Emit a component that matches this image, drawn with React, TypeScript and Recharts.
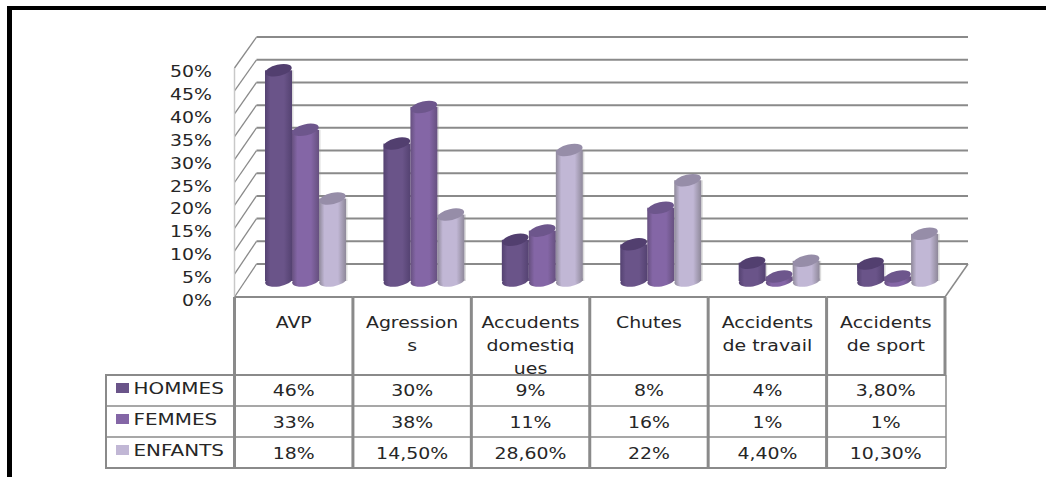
import React from "react";
import { BarChart, Bar, XAxis, YAxis, CartesianGrid, Legend } from "recharts";

const categories = ["AVP", "Agressions", "Accudents domestiques", "Chutes", "Accidents de travail", "Accidents de sport"];
const categoryLines = [["AVP"], ["Agression", "s"], ["Accudents", "domestiq", "ues"], ["Chutes"], ["Accidents", "de travail"], ["Accidents", "de sport"]];
const hommes = [46, 30, 9, 8, 4, 3.8];
const femmes = [33, 38, 11, 16, 1, 1];
const enfants = [18, 14.5, 28.6, 22, 4.4, 10.3];
const yTicks = [0, 5, 10, 15, 20, 25, 30, 35, 40, 45, 50];

const seriesNames = ["HOMMES", "FEMMES", "ENFANTS"];
const seriesValues = [hommes, femmes, enfants];
const seriesColors = ["#6a5489", "#8466a6", "#c1b7d5"];
const seriesTops = ["#523f6f", "#6d568c", "#968da8"];
const seriesEdges = ["#544271", "#66507f", "#8e8899"];

const data = categories.map((name, i) => ({
  name,
  HOMMES: hommes[i],
  FEMMES: femmes[i],
  ENFANTS: enfants[i],
}));

const W = 1046;
const H = 477;
const PLOT_LEFT = 234.5;
const PLOT_RIGHT = 945;
const PLOT_TOP = 68;
const PLOT_BOTTOM = 297;
const BAND = (PLOT_RIGHT - PLOT_LEFT) / categories.length;
const DEPTH_X = 22;
const BACK_FLOOR = 264;
const BACK_SCALE = 0.991;
const BAR_DX = 11.5;
const BAR_DY = -16;
const ROW_TOP = 375;
const ROW_H = 31;
const LINE = "#8a8a8a";
const FONT = "'DejaVu Sans', sans-serif";
const TEXT = "#262626";

const fmt = (v: number) =>
  Number.isInteger(v) ? `${v}%` : `${v.toFixed(2).replace(".", ",")}%`;

const WideText = ({ x, y, anchor = "middle", stretch = 1.26, children }: any) => (
  <text
    transform={`translate(${x} ${y}) scale(${stretch} 1)`}
    textAnchor={anchor}
    fontFamily={FONT}
    fontSize={15}
    fill={TEXT}
  >
    {children}
  </text>
);

const makeCylinder = (s: number) => (props: any) => {
  const { x, y, width, height } = props;
  const cx = x + width / 2 + BAR_DX;
  const cy = y + BAR_DY;
  const by = y + height + BAR_DY;
  const rx = width / 2;
  const left = x + BAR_DX;
  return (
    <g>
      <rect x={left + width} y={cy} width={1.5} height={by - cy} fill="#8a8a8a" opacity={0.3} />
      <ellipse cx={cx} cy={by} rx={rx} ry={5.5} fill={`url(#cyl${s})`} transform={`rotate(-9 ${cx} ${by})`} />
      <rect x={left} y={cy} width={width} height={by - cy} fill={`url(#cyl${s})`} />
      <ellipse cx={cx} cy={cy} rx={rx} ry={5.6} fill={seriesTops[s]} transform={`rotate(-13 ${cx} ${cy})`} />
    </g>
  );
};

const gridLine = (p: any) => {
  const { x1, x2, y1, index } = p;
  const isFloor = Math.abs(y1 - PLOT_BOTTOM) < 0.5;
  const backY = BACK_FLOOR - (PLOT_BOTTOM - y1) * BACK_SCALE;
  return (
    <g key={`g${index}`}>
      <line x1={x1} y1={y1} x2={x1 + DEPTH_X} y2={backY} stroke={LINE} strokeWidth={1.3} />
      <line x1={x1 + DEPTH_X} y1={backY} x2={x2 + DEPTH_X + 1} y2={backY} stroke={LINE} strokeWidth={2} />
      {isFloor && (
        <line x1={x2} y1={y1} x2={x2 + DEPTH_X + 1} y2={backY} stroke={LINE} strokeWidth={1.5} />
      )}
    </g>
  );
};

const YTick = (p: any) => (
  <WideText x={212} y={p.y + 9} anchor="end">
    {`${p.payload.value}%`}
  </WideText>
);

const XTick = (p: any) => {
  const i = p.index as number;
  const cx = p.x as number;
  const xl = cx - BAND / 2;
  const xr = cx + BAND / 2;
  const bottom = ROW_TOP + ROW_H * 3;
  return (
    <g>
      <line x1={xl} y1={PLOT_BOTTOM} x2={xl} y2={bottom} stroke={LINE} strokeWidth={3} />
      {i === categories.length - 1 && (
        <>
          <line x1={xr} y1={PLOT_BOTTOM} x2={xr} y2={ROW_TOP} stroke={LINE} strokeWidth={3} />
          <line x1={xr + 1} y1={ROW_TOP} x2={xr + 1} y2={bottom} stroke={LINE} strokeWidth={1.5} />
        </>
      )}
      <line x1={xl} y1={PLOT_BOTTOM} x2={xr} y2={PLOT_BOTTOM} stroke={LINE} strokeWidth={2} />
      {[0, 1, 2, 3].map((r) => (
        <line key={r} x1={xl} y1={ROW_TOP + ROW_H * r} x2={xr + 1} y2={ROW_TOP + ROW_H * r} stroke={LINE} strokeWidth={r === 0 || r === 3 ? 2 : 1.5} />
      ))}
      {categoryLines[i].map((t, k) => (
        <WideText key={t} x={cx} y={328 + k * 23}>
          {t}
        </WideText>
      ))}
      {seriesValues.map((vals, r) => (
        <WideText key={r} x={cx} y={ROW_TOP + 21 + r * 31.5}>
          {fmt(vals[i])}
        </WideText>
      ))}
    </g>
  );
};

const RowHeaders = ({ payload }: any) => (
  <svg width={130} height={95} style={{ display: "block", overflow: "visible" }}>
    <rect x={1} y={1} width={128} height={93} fill="none" stroke={LINE} strokeWidth={2} />
    {(payload || []).map((e: any, r: number) => (
      <g key={e.value}>
        <rect x={11} y={9 + r * 31} width={13} height={10} fill={e.color} />
        <WideText x={28.5} y={20 + r * 31} anchor="start" stretch={1.33}>
          {e.value}
        </WideText>
      </g>
    ))}
    <line x1={0} y1={32} x2={129} y2={32} stroke={LINE} strokeWidth={1.5} />
    <line x1={0} y1={63} x2={129} y2={63} stroke={LINE} strokeWidth={1.5} />
  </svg>
);

export default function App() {
  return (
    <div style={{ position: "absolute", left: 0, top: 0, width: W, height: H, overflow: "hidden", background: "#fff" }}>
      <div style={{ position: "absolute", left: 7, top: 6, width: W - 7, height: 3.5, background: "#000" }} />
      <div style={{ position: "absolute", left: 7, top: 6, width: 5, height: H - 6, background: "#000" }} />
      <div style={{ position: "absolute", left: 0, top: 0 }}>
        <BarChart
          width={W}
          height={H}
          data={data}
          margin={{ top: PLOT_TOP, bottom: H - PLOT_BOTTOM - 1, left: PLOT_LEFT - 1, right: W - PLOT_RIGHT }}
          barCategoryGap={19}
          barGap={0}
        >
          <defs>
            {seriesColors.map((c, s) => (
              <linearGradient key={s} id={`cyl${s}`} x1="0" y1="0" x2="1" y2="0">
                <stop offset="0" stopColor={seriesEdges[s]} />
                <stop offset="0.2" stopColor={c} />
                <stop offset="0.7" stopColor={c} />
                <stop offset="1" stopColor={seriesEdges[s]} />
              </linearGradient>
            ))}
          </defs>
          <CartesianGrid horizontal={gridLine as any} vertical={false} />
          <XAxis dataKey="name" height={1} interval={0} axisLine={false} tickLine={false} tick={XTick as any} />
          <YAxis
            width={1}
            domain={[0, 50]}
            ticks={yTicks}
            interval={0}
            axisLine={{ stroke: "#c8c8c8", strokeWidth: 1.5 }}
            tickLine={false}
            tick={YTick as any}
          />
          <Legend
            layout="vertical"
            align="center"
            verticalAlign="middle"
            itemSorter={null}
            wrapperStyle={{ left: 105, top: ROW_TOP - 1, width: 130, height: 95 }}
            content={RowHeaders as any}
          />
          {seriesNames.map((n, s) => (
            <Bar key={n} dataKey={n} fill={seriesColors[s]} isAnimationActive={false} shape={makeCylinder(s) as any} />
          ))}
        </BarChart>
      </div>
    </div>
  );
}
